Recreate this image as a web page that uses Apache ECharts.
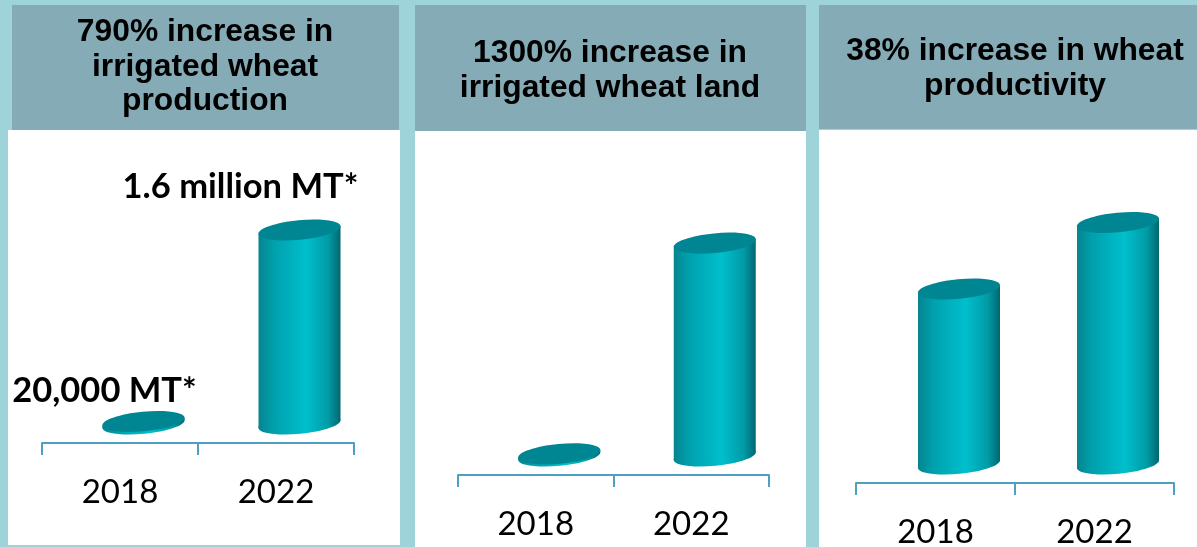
<!DOCTYPE html>
<html>
<head>
<meta charset="utf-8" />
<title>Irrigated wheat</title>
<script src="https://cdn.jsdelivr.net/npm/echarts@6/dist/echarts.min.js"></script>
<style type="text/css">
html, body { margin: 0; padding: 0; background: #9dd3d9; }
#echarts { width: 1197px; height: 547px; }
</style>
</head>
<body>
<div id="echarts"></div>
<script type="text/javascript">
var myChart = echarts.init(document.getElementById('echarts'));

var years = ['2018', '2022'];

var titles = [
    '790% increase in\nirrigated wheat\nproduction',
    '1300% increase in\nirrigated wheat land',
    '38% increase in wheat\nproductivity'
];

// million MT, labelled in the picture
var productionValues = [0.02, 1.6];
var productionLabels = ['20,000 MT*', '1.6 million MT*'];
// no numbers printed on these two (2018 = 100 on the last one)
var landValues = [1, 100];
var productivityValues = [100, 138];

var panels = [
    {values: productionValues, labels: productionLabels, max: 2.5, left: 42, right: 354, top: 140, bottom: 443, titleX: 205, titleY: 15},
    {values: landValues, labels: null, max: 140, left: 458, right: 769, top: 177, bottom: 475, titleX: 610, titleY: 36},
    {values: productivityValues, labels: null, max: 200, left: 856, right: 1174, top: 133, bottom: 483, titleX: 1015, titleY: 34}
];

var labelOffsets = [[-39, -31], [-59, -43]];

var sideGradient = new echarts.graphic.LinearGradient(0, 0, 1, 0, [
    {offset: 0, color: '#058490'},
    {offset: 0.18, color: '#00a0ad'},
    {offset: 0.58, color: '#00bfcc'},
    {offset: 0.85, color: '#009ba6'},
    {offset: 0.97, color: '#00727b'},
    {offset: 1, color: '#00666f'}
]);

// 3d cylinder: slanted ellipse on top and below, straight sides
function makeRenderItem(labels) {
    return function (params, api) {
        var base = api.coord([api.value(0), 0]);
        var top = api.coord([api.value(0), api.value(1)]);
        var cx = base[0] + 23.5;
        var baseY = base[1] - 19;
        var topY = top[1] - 19;
        var rx = 41.3, ry = 9.8, slant = 5.5 * Math.PI / 180, edge = 4;

        var children = [
            {
                type: 'ellipse',
                shape: {cx: cx, cy: baseY, rx: rx, ry: ry},
                originX: cx, originY: baseY, rotation: slant,
                style: {fill: sideGradient}
            },
            {
                type: 'polygon',
                shape: {points: [
                    [cx - 41, topY + edge], [cx + 41, topY - edge],
                    [cx + 41, baseY - edge], [cx - 41, baseY + edge]
                ]},
                style: {fill: sideGradient}
            },
            {
                type: 'ellipse',
                shape: {cx: cx, cy: topY, rx: rx, ry: ry},
                originX: cx, originY: topY, rotation: slant,
                style: {fill: '#008692'}
            }
        ];
        if (labels) {
            children.push({
                type: 'text',
                x: cx + labelOffsets[params.dataIndex][0],
                y: topY + labelOffsets[params.dataIndex][1],
                style: {
                    text: labels[params.dataIndex],
                    fill: '#000',
                    font: 'bold 34.5px Lato',
                    align: 'center',
                    verticalAlign: 'middle'
                }
            });
        }
        return {type: 'group', children: children};
    };
}

var option = {
    animation: false,
    backgroundColor: '#9dd3d9',
    graphic: [
        {type: 'rect', z: -10, shape: {x: 8, y: 130, width: 392, height: 415}, style: {fill: '#fff'}},
        {type: 'rect', z: -10, shape: {x: 415, y: 131, width: 391, height: 416}, style: {fill: '#fff'}},
        {type: 'rect', z: -10, shape: {x: 819, y: 130, width: 378, height: 417}, style: {fill: '#fff'}},
        {type: 'rect', z: -9, shape: {x: 12, y: 5, width: 387, height: 125}, style: {fill: '#85abb6'}},
        {type: 'rect', z: -9, shape: {x: 415, y: 5, width: 391, height: 126}, style: {fill: '#85abb6'}},
        {type: 'rect', z: -9, shape: {x: 819, y: 5, width: 378, height: 124}, style: {fill: '#85abb6'}}
    ],
    title: panels.map(function (p, i) {
        return {
            text: titles[i],
            left: p.titleX,
            top: p.titleY,
            textAlign: 'center',
            padding: 0,
            textStyle: {fontFamily: 'Liberation Sans', fontWeight: 'bold', fontSize: 31.8, lineHeight: 34.5, color: '#000'}
        };
    }),
    grid: panels.map(function (p) {
        return {
            left: p.left, width: p.right - p.left, top: p.top, height: p.bottom - p.top,
            outerBoundsMode: 'none' // labels on the last panel touch the page edge, keep the grid where it is
        };
    }),
    xAxis: panels.map(function (p, i) {
        return {
            type: 'category',
            gridIndex: i,
            data: years,
            axisLine: {lineStyle: {color: '#4f9fc0', width: 2}},
            axisTick: {show: true, length: 12, lineStyle: {color: '#4f9fc0', width: 2}},
            axisLabel: {color: '#000', fontFamily: 'Lato', fontSize: 33, margin: 33}
        };
    }),
    yAxis: panels.map(function (p, i) {
        return {type: 'value', gridIndex: i, show: false, min: 0, max: p.max};
    }),
    series: panels.map(function (p, i) {
        return {
            type: 'custom',
            xAxisIndex: i,
            yAxisIndex: i,
            clip: false,
            renderItem: makeRenderItem(p.labels),
            encode: {x: 0, y: 1},
            data: p.values.map(function (v, j) { return [j, v]; })
        };
    })
};

myChart.setOption(option);
</script>
</body>
</html>
